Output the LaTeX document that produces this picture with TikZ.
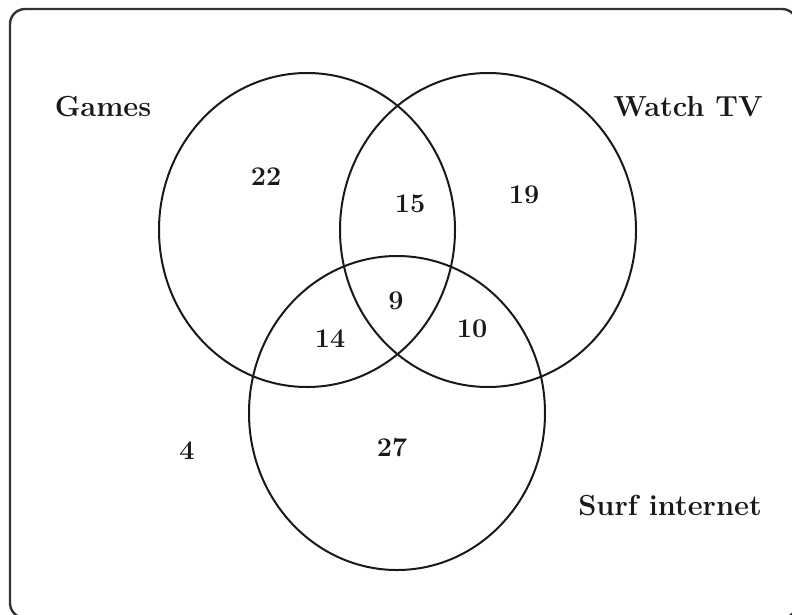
\documentclass[tikz,border=0pt]{standalone}
\usetikzlibrary{shapes.geometric}
\begin{document}
\begin{tikzpicture}[x=1pt,y=-1pt,
  setcircle/.style={draw=black!90, line width=2pt, ellipse, inner sep=0pt,
    minimum width=296pt, minimum height=314pt},
  lbl/.style={font=\fontsize{29}{33}\selectfont\bfseries, inner sep=0pt, text=black!90},
  num/.style={font=\fontsize{27}{31}\selectfont\bfseries, inner sep=0pt, text=black!90}]
\useasboundingbox (0,0) rectangle (792,614);
\clip (0,0) rectangle (792,614);
\draw[line width=2.4pt, draw=black!80, rounded corners=15pt] (10,9) rectangle (797,618);
\node[setcircle] (games) at (307,230) {};
\node[setcircle] (tv) at (488,230) {};
\node[setcircle] (surf) at (397,413) {};
\node[lbl] (lgames) at (103,107) {Games};
\node[lbl] (ltv) at (688,107) {Watch TV};
\node[lbl] (lsurf) at (670,506) {Surf internet};
\node[num] (n22) at (266,177) {22};
\node[num] (n15) at (410,204) {15};
\node[num] (n19) at (524,195) {19};
\node[num] (n9) at (396,301) {9};
\node[num] (n14) at (330,339) {14};
\node[num] (n10) at (472,329) {10};
\node[num] (n4) at (187,451) {4};
\node[num] (n27) at (392,448) {27};
\end{tikzpicture}
\end{document}
